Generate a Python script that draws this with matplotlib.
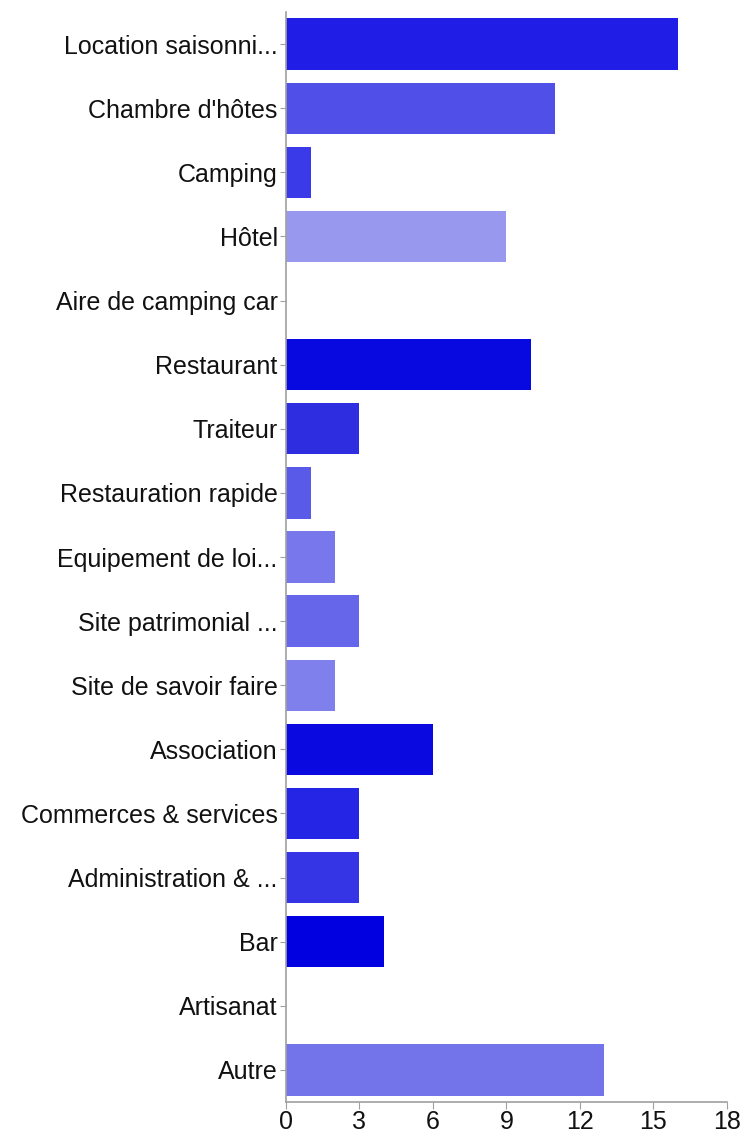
import matplotlib.pyplot as plt

categories = ["Location saisonni...", "Chambre d'hôtes", "Camping", "Hôtel",
              "Aire de camping car", "Restaurant", "Traiteur", "Restauration rapide",
              "Equipement de loi...", "Site patrimonial ...", "Site de savoir faire",
              "Association", "Commerces & services", "Administration & ...", "Bar",
              "Artisanat", "Autre"]
values = [16, 11, 1, 9, 0, 10, 3, 1, 2, 3, 2, 6, 3, 3, 4, 0, 13]
colors = ["#1f1de6", "#5050e8", "#3a3ae8", "#9898ee", "#8888ee", "#0808e0",
          "#2e2ee0", "#5a5ae8", "#7878ec", "#6666ea", "#8080ec", "#0a0ae0",
          "#2525e6", "#3535e6", "#0000e0", "#8888ee", "#7474ea"]
xticks = [0, 3, 6, 9, 12, 15, 18]

plt.rcParams['font.family'] = ['Liberation Sans', 'DejaVu Sans']

fig = plt.figure(figsize=(7.45, 11.35), dpi=100)
ax = fig.add_axes([0.3839, 0.0291, 0.5919, 0.9603])

ypos = list(range(len(categories)))
ax.barh(ypos, values, height=0.8, color=colors)

ax.set_ylim(len(categories) - 0.5, -0.5)
ax.set_xlim(0, 18)
ax.set_yticks(ypos)
ax.set_yticklabels(categories, fontsize=18, color='#111111')
ax.set_xticks(xticks)
ax.set_xticklabels([str(t) for t in xticks], fontsize=18, color='#111111')

for s in ['top', 'right']:
    ax.spines[s].set_visible(False)
for s in ['left', 'bottom']:
    ax.spines[s].set_color('#a0a0a0')
    ax.spines[s].set_linewidth(1.2)
ax.tick_params(axis='y', length=4, color='#a0a0a0', pad=2)
ax.tick_params(axis='x', length=5, color='#a0a0a0', pad=1)

plt.savefig('out.png', dpi=100)
